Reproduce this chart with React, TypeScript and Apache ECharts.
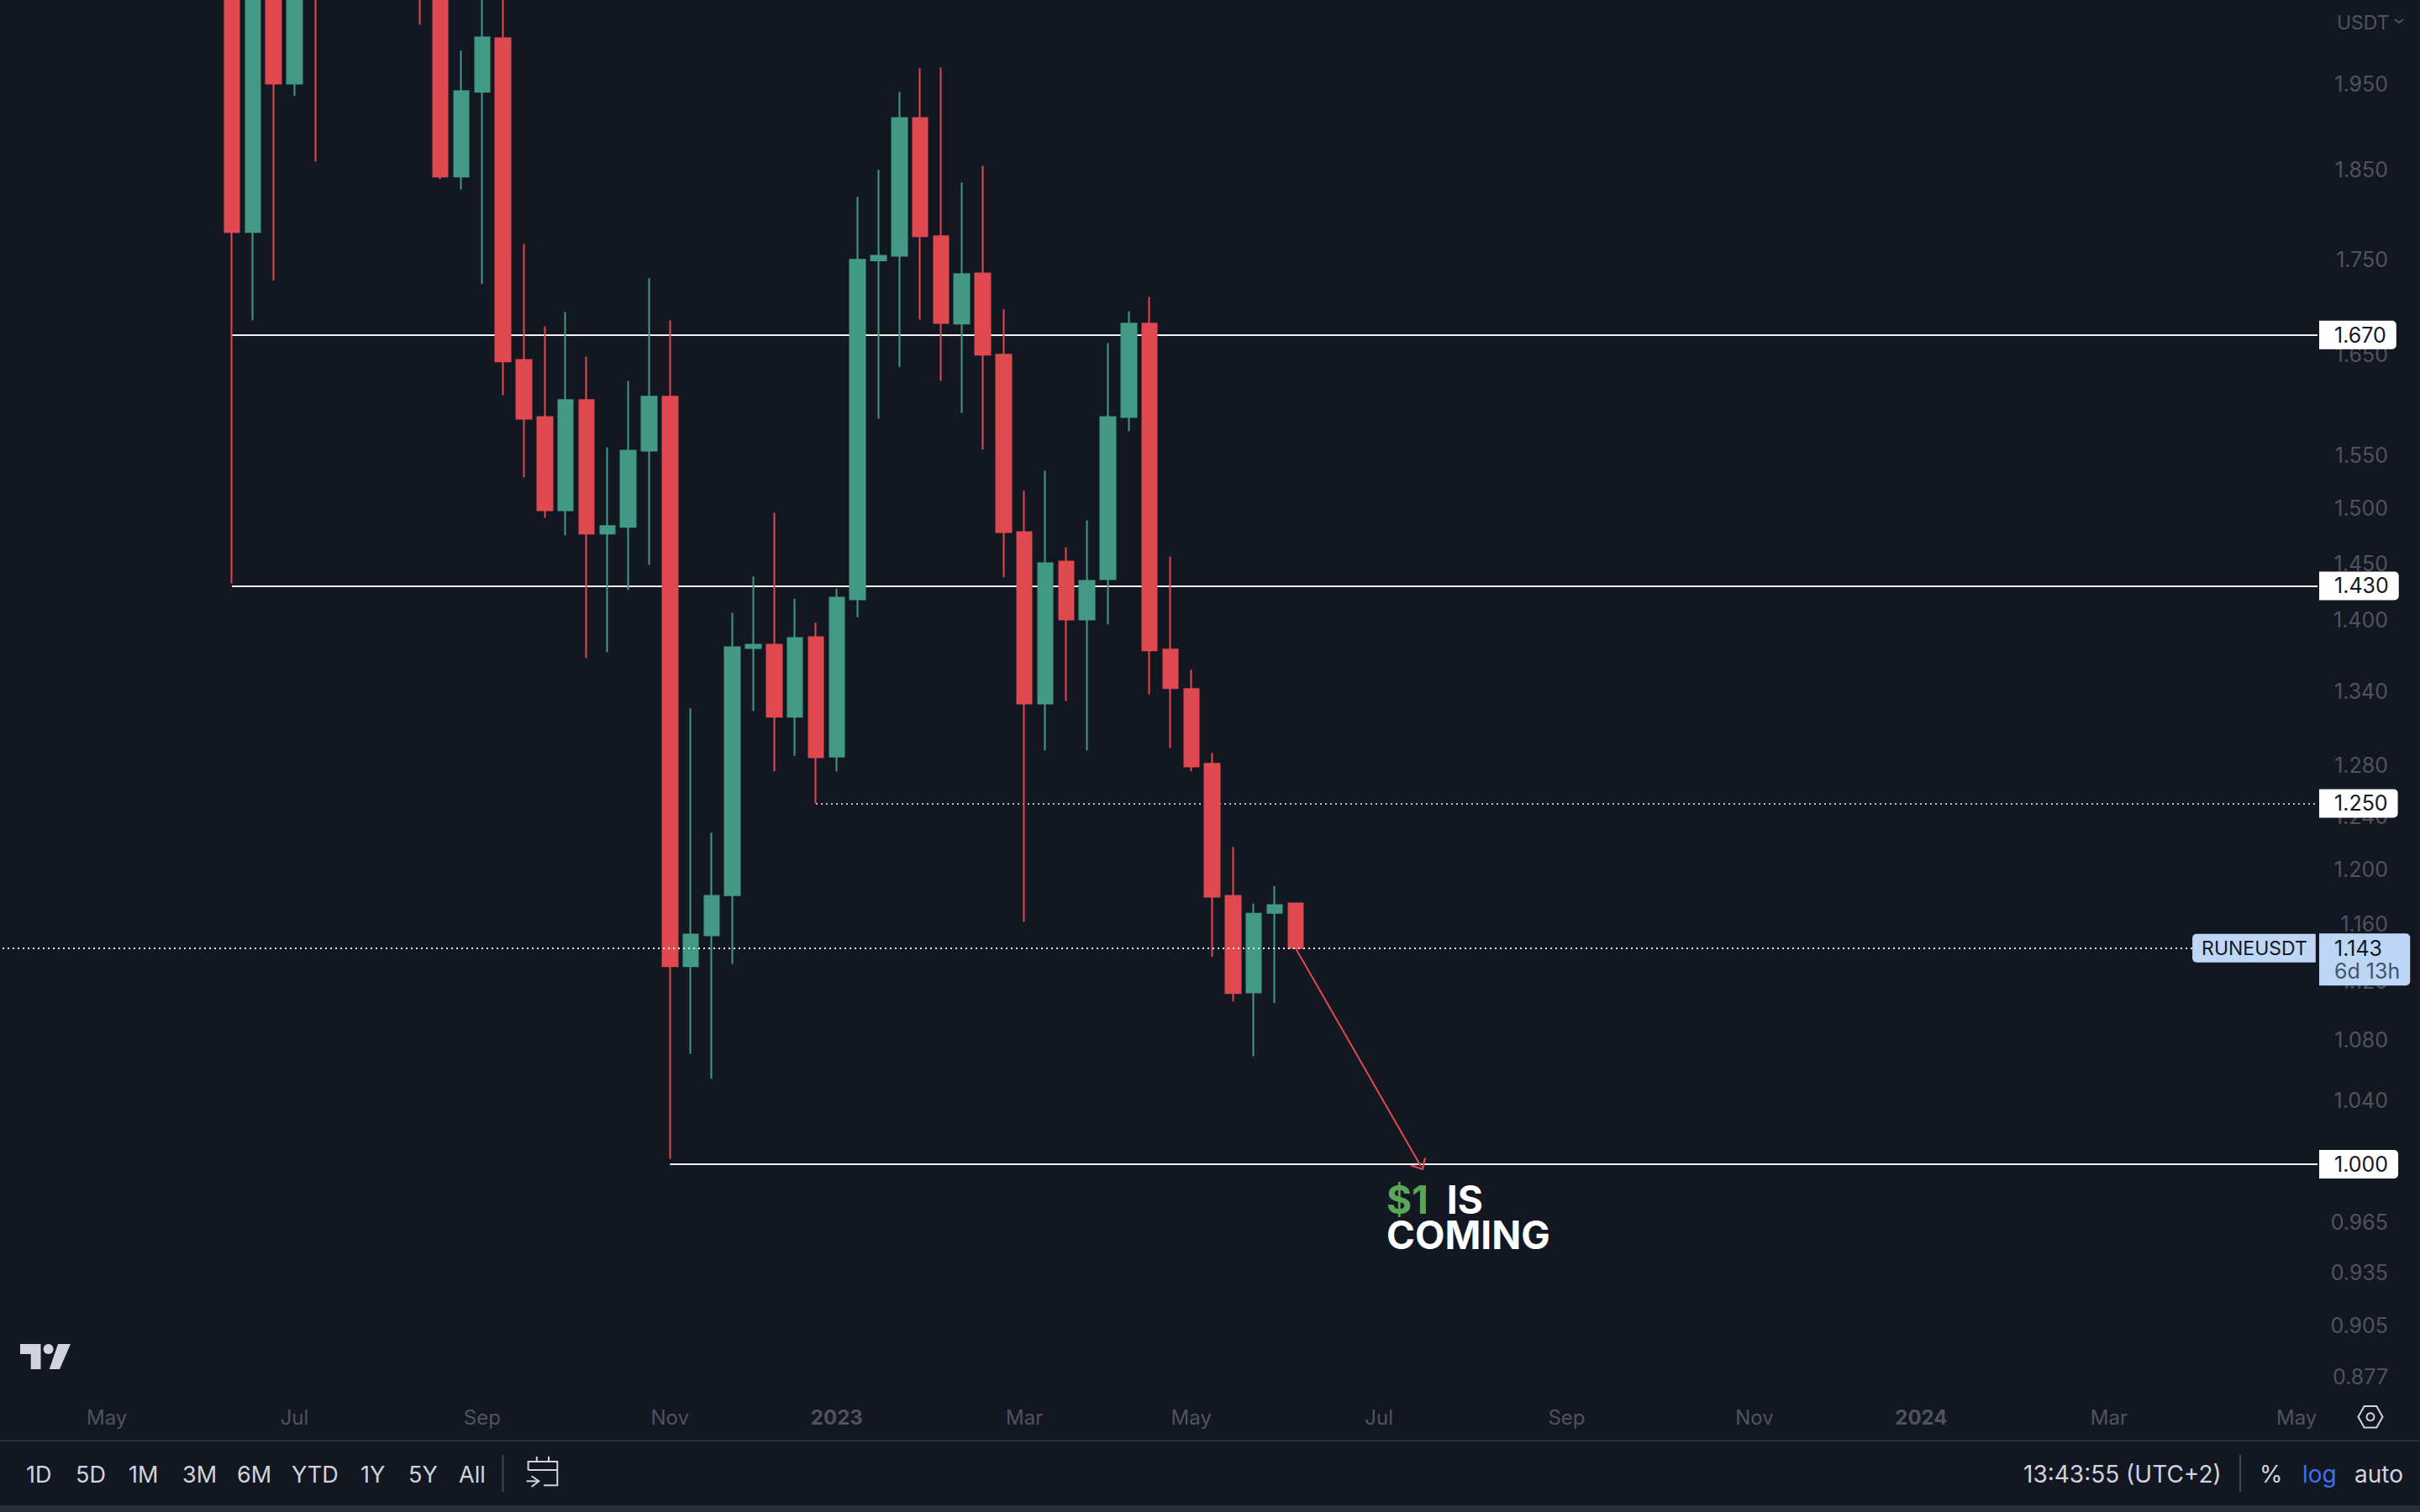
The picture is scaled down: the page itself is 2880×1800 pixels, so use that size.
import React, { useEffect, useRef } from "react";
import * as echarts from "echarts";

const BG = "#131722";
const UP = "#439A84";
const DOWN = "#E0494F";
const DIM = "#50535E";
const LIGHT = "#D1D4DC";
const BAND = "#2A2E39";
const PRICE_BOX = "#BFD7F7";
const FONT = "Inter";

// weekly bars, the visible ones start in June 2022, bars that run off the top are estimated
const opens = [
  2.25, 1.7797, 2.3, 1.9508, 2.35, 2.15, 2.42, 2.61, 2.44, 2.31,
  2.16, 1.8418, 1.9409, 2.0063, 1.6444, 1.5874, 1.4983, 1.604, 1.4769, 1.4831,
  1.5547, 1.6074, 1.1303, 1.1521, 1.181, 1.376, 1.3788, 1.3188, 1.3853, 1.2867,
  1.4181, 1.7487, 1.7539, 1.9097, 1.7751, 1.6817, 1.7348, 1.6497, 1.4783, 1.3297,
  1.4517, 1.4006, 1.4359, 1.5874, 1.6817, 1.3747, 1.3416, 1.281, 1.1805, 1.1121,
  1.1682, 1.175,
];
const closes = [
  1.7797, 2.3, 1.9508, 2.2, 2.15, 2.42, 2.61, 2.44, 2.31, 2.16,
  1.8418, 1.9418, 2.0073, 1.6428, 1.5856, 1.4983, 1.604, 1.4769, 1.4838, 1.5547,
  1.6074, 1.1303, 1.1527, 1.1805, 1.3768, 1.3788, 1.3188, 1.3846, 1.2861, 1.4195,
  1.7495, 1.7539, 1.9097, 1.7751, 1.6825, 1.734, 1.6497, 1.4783, 1.3297, 1.4502,
  1.4006, 1.4344, 1.5874, 1.6817, 1.374, 1.3423, 1.2788, 1.1799, 1.1116, 1.1676,
  1.1738, 1.143,
];
const lows = [
  1.4321, 1.6853, 1.7272, 1.936, 1.8589, 2.09, 2.33, 2.3, 2.2, 2.0232,
  1.8388, 1.8273, 1.7232, 1.609, 1.5292, 1.4914, 1.4752, 1.3675, 1.3725, 1.4265,
  1.4487, 1.0032, 1.0707, 1.0543, 1.1319, 1.3234, 1.275, 1.2874, 1.2499, 1.275,
  1.4026, 1.5856, 1.6374, 1.686, 1.6231, 1.5915, 1.5557, 1.4376, 1.1616, 1.2915,
  1.3317, 1.2915, 1.3964, 1.5735, 1.3373, 1.2935, 1.275, 1.1367, 1.1058, 1.069,
  1.1047, 1.143,
];
const highs = [
  2.4, 2.4, 2.35, 2.3, 2.45, 2.5, 2.72, 2.7, 2.55, 2.4,
  2.2, 1.9911, 2.1, 2.1, 1.7665, 1.679, 1.6939, 1.6479, 1.558, 1.6232,
  1.7296, 1.6853, 1.3257, 1.2275, 1.4064, 1.4383, 1.4961, 1.4187, 1.3978, 1.4276,
  1.819, 1.8495, 1.9409, 1.9694, 1.9703, 1.835, 1.8542, 1.6966, 1.5165, 1.5357,
  1.4646, 1.489, 1.6616, 1.6947, 1.7098, 1.4562, 1.3578, 1.2897, 1.2168, 1.1749,
  1.1878, 1.175,
];

const priceTicks = [
  1.95, 1.85, 1.75, 1.65, 1.55, 1.5, 1.45, 1.4, 1.34, 1.28, 1.24, 1.2, 1.16,
  1.12, 1.08, 1.04, 0.965, 0.935, 0.905, 0.877,
];
const timeTickDates = [
  "2022-05-02", "2022-07-04", "2022-09-05", "2022-11-07", "2023-01-02", "2023-03-06",
  "2023-05-01", "2023-07-03", "2023-09-04", "2023-11-06", "2024-01-01", "2024-03-04", "2024-05-06",
];
const timeTickLabels = ["May", "Jul", "Sep", "Nov", "2023", "Mar", "May", "Jul", "Sep", "Nov", "2024", "Mar", "May"];
const boldTimeLabels = ["2023", "2024"];
const rangeButtons = ["1D", "5D", "1M", "3M", "6M", "YTD", "1Y", "5Y", "All"];
const rangeButtonX = [31, 90, 153, 217, 282, 347, 429, 486, 546];

const LEAD_WEEKS = 11;
const weeks: string[] = [];
for (let k = 0; k < 112; k++) {
  weeks.push(new Date(Date.UTC(2022, 2, 28 + k * 7)).toISOString().slice(0, 10));
}
const week = (barIndex: number) => weeks[barIndex + LEAD_WEEKS];

const LABEL_BAR = 100;
const BAR_STEP = 24.82;
const GRID_LEFT = -9.4;
const GRID_WIDTH = 112 * BAR_STEP;

const text = (str: string, x: number, y: number, fill: string, extra: any = {}) => ({
  type: "text",
  silent: true,
  style: { text: str, x, y, fill, fontFamily: FONT, fontSize: 28, textVerticalAlign: "middle", ...extra },
});
const stroke = (points: number[][], color = LIGHT, lineWidth = 2) => ({
  type: "polyline",
  silent: true,
  shape: { points },
  style: { stroke: color, lineWidth, fill: "none" },
});

const levelLine = (fromBar: number, price: number, dashed: boolean) => [
  {
    coord: [week(fromBar), price],
    lineStyle: dashed
      ? { color: "#B8BCC6", width: 2, type: [2, 4] }
      : { color: "#F2F3F5", width: 2, type: "solid" },
    label: {
      show: true,
      position: "end",
      distance: 2,
      formatter: price.toFixed(3),
      color: BG,
      backgroundColor: "#FFFFFF",
      fontFamily: FONT,
      fontSize: 25,
      lineHeight: 24,
      padding: [5, 12, 5, 18],
      borderRadius: [0, 5, 5, 0],
    },
  },
  { coord: [week(LABEL_BAR), price] },
];

const App: React.FC = () => {
  const chartRef = useRef<HTMLDivElement>(null);

  useEffect(() => {
    document.body.style.margin = "0";
    document.body.style.background = BG;
    const chart = echarts.init(chartRef.current!, undefined, { renderer: "svg" });

    chart.setOption({
      animation: false,
      backgroundColor: BG,
      textStyle: { fontFamily: FONT },
      grid: { left: GRID_LEFT, top: 0.5, width: GRID_WIDTH, height: 1660, outerBoundsMode: "none" },
      xAxis: {
        type: "category",
        data: weeks,
        axisLine: { show: false },
        axisTick: { show: false },
        splitLine: { show: false },
        axisLabel: {
          interval: (_: number, value: string) => timeTickDates.includes(value),
          formatter: (value: string) => {
            const label = timeTickLabels[timeTickDates.indexOf(value)];
            return boldTimeLabels.includes(label) ? `{bold|${label}}` : label;
          },
          color: DIM,
          fontFamily: FONT,
          fontSize: 24,
          margin: 15,
          rich: { bold: { color: DIM, fontFamily: FONT, fontSize: 24, fontWeight: 700 } },
        },
      },
      yAxis: {
        type: "log",
        logBase: 10,
        position: "right",
        min: 0.8671,
        max: 2.0538,
        axisLine: { show: false },
        axisTick: { show: false },
        splitLine: { show: false },
        axisLabel: {
          customValues: priceTicks,
          formatter: (value: number) => value.toFixed(3),
          align: "right",
          margin: 71.6,
          padding: [2, 0, 0, 0],
          color: DIM,
          fontFamily: FONT,
          fontSize: 25,
        },
      },
      series: [
        {
          type: "candlestick",
          z: 3,
          barWidth: 18,
          encode: { x: 0, y: [1, 2, 3, 4] },
          itemStyle: { color: UP, color0: DOWN, borderColor: UP, borderColor0: DOWN, borderWidth: 2 },
          data: opens.map((open, i) => [week(i), open, closes[i], lows[i], highs[i]]),
          markLine: {
            silent: true,
            z: 1,
            symbol: "none",
            data: [
              levelLine(0, 1.67, false),
              levelLine(0, 1.43, false),
              levelLine(28, 1.25, true),
              levelLine(21, 1.0, false),
            ],
          },
        },
        {
          type: "line",
          z: 6,
          data: [],
          markLine: {
            silent: true,
            z: 6,
            symbol: "none",
            data: [
              [
                {
                  coord: [week(-LEAD_WEEKS), 1.143],
                  lineStyle: { color: "#DCE8F8", width: 2, type: [2, 4] },
                  label: {
                    show: true,
                    position: "end",
                    distance: 0,
                    formatter: "RUNEUSDT",
                    color: BG,
                    backgroundColor: PRICE_BOX,
                    fontFamily: FONT,
                    fontSize: 23,
                    lineHeight: 24,
                    padding: [5, 10, 5, 11],
                    borderRadius: [5, 0, 0, 5],
                  },
                },
                { coord: [week(94), 1.143] },
              ],
              [
                {
                  coord: [week(51), 1.143],
                  lineStyle: { color: DOWN, width: 2, type: "solid" },
                  label: { show: false },
                },
                {
                  coord: [week(57), 0.9989],
                  symbol: "path://M50 0 L100 100 L86 100 L50 28 L14 100 L0 100 Z",
                  symbolSize: [22, 12],
                },
              ],
            ],
          },
          markPoint: {
            silent: true,
            z: 7,
            symbol: "circle",
            symbolSize: 0,
            data: [
              {
                coord: [week(LABEL_BAR), 1.143],
                label: {
                  show: true,
                  position: "right",
                  distance: 2,
                  offset: [0, 13.5],
                  formatter: "{price|1.143}\n{left|6d 13h}",
                  backgroundColor: PRICE_BOX,
                  padding: [4, 12, 4, 18],
                  borderRadius: [0, 5, 5, 0],
                  rich: {
                    price: { color: BG, fontFamily: FONT, fontSize: 25, lineHeight: 27, align: "left" },
                    left: { color: "#43536A", fontFamily: FONT, fontSize: 25, lineHeight: 27, align: "left" },
                  },
                },
              },
            ],
          },
        },
      ],
      graphic: [
        // top-right currency switch
        text("USDT", 2781, 27, DIM, { fontSize: 23 }),
        stroke([[2850, 23], [2855, 27], [2860, 23]], DIM),
        // logo
        { type: "polygon", silent: true, shape: { points: [[24, 1600], [48.5, 1600], [48.5, 1630], [36.7, 1630], [36.7, 1612], [24, 1612]] }, style: { fill: LIGHT } },
        { type: "circle", silent: true, shape: { cx: 57.6, cy: 1606, r: 6 }, style: { fill: LIGHT } },
        { type: "polygon", silent: true, shape: { points: [[69, 1600], [84, 1600], [71, 1630], [58.7, 1630]] }, style: { fill: LIGHT } },
        // time axis settings icon
        { type: "polygon", silent: true, shape: { points: [[2806.5, 1686.7], [2813.7, 1674], [2828.3, 1674], [2835.5, 1686.7], [2828.3, 1699.4], [2813.7, 1699.4]] }, style: { fill: "none", stroke: LIGHT, lineWidth: 2 } },
        { type: "circle", silent: true, shape: { cx: 2821, cy: 1686.7, r: 4.5 }, style: { fill: "none", stroke: LIGHT, lineWidth: 2 } },
        // toolbar frame
        { type: "line", silent: true, shape: { x1: 0, y1: 1715, x2: 2880, y2: 1715 }, style: { stroke: BAND, lineWidth: 2 } },
        { type: "rect", silent: true, shape: { x: 0, y: 1792, width: 2880, height: 8 }, style: { fill: BAND } },
        { type: "line", silent: true, shape: { x1: 598.5, y1: 1732, x2: 598.5, y2: 1776 }, style: { stroke: "#434651", lineWidth: 2 } },
        { type: "line", silent: true, shape: { x1: 2666, y1: 1732, x2: 2666, y2: 1776 }, style: { stroke: "#434651", lineWidth: 2 } },
        ...rangeButtons.map((label, i) => text(label, rangeButtonX[i], 1755, LIGHT, { fontSize: 27 })),
        // go-to-date icon
        stroke([[628.6, 1750], [628.6, 1740], [663.3, 1740], [663.3, 1768.3], [647, 1768.3]]),
        stroke([[628.6, 1750], [663.3, 1750]]),
        stroke([[638.8, 1734], [638.8, 1740]]),
        stroke([[653, 1734], [653, 1740]]),
        stroke([[626.5, 1763.3], [640.3, 1763.3]]),
        stroke([[632.6, 1757.3], [641.3, 1763.3], [632.6, 1770]]),
        text("13:43:55 (UTC+2)", 2408, 1755, LIGHT),
        text("%", 2689, 1755, LIGHT),
        text("log", 2740, 1755, "#3D6FF0"),
        text("auto", 2802, 1755, LIGHT),
        // annotation
        {
          type: "text",
          silent: true,
          style: {
            x: 1650,
            y: 1407,
            text: "{g|$1}{w|\u00A0\u00A0IS}\n{w|COMING}",
            fontFamily: FONT,
            rich: {
              g: { fill: "#5BA55A", fontFamily: FONT, fontSize: 46, fontWeight: 700, lineHeight: 42 },
              w: { fill: "#FFFFFF", fontFamily: FONT, fontSize: 46, fontWeight: 700, lineHeight: 42 },
            },
          },
        },
      ],
    });

    return () => {
      chart.dispose();
    };
  }, []);

  return <div ref={chartRef} style={{ position: "absolute", left: 0, top: 0, width: "2880px", height: "1800px" }} />;
};

export default App;
